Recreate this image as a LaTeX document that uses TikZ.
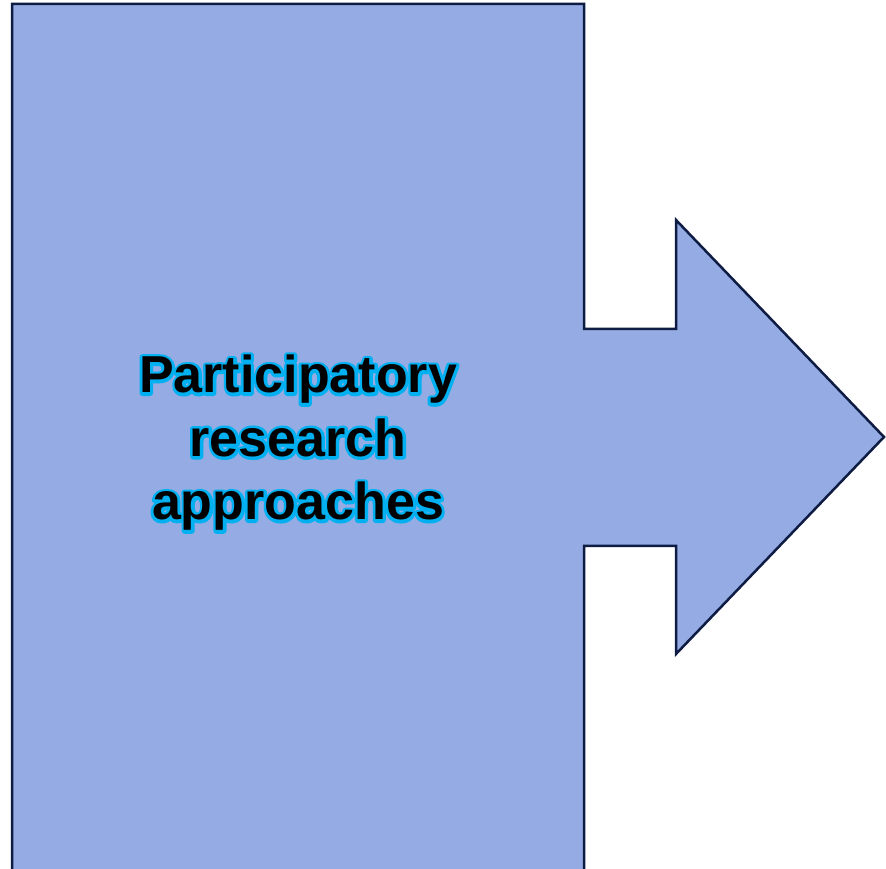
\documentclass[tikz,border=0pt]{standalone}
\usepackage{fontspec}
\newfontfamily\labelfont{Liberation Sans}
\definecolor{shapefill}{HTML}{94ABE3}
\definecolor{shapeline}{HTML}{0E1B42}
\newcommand{\olline}[1]{\special{pdf:literal direct 1 Tr 6 w 1 j 0 0.69 0.94 RG}#1\special{pdf:literal direct 0 Tr}}
\tikzset{
  arrowshape/.style={fill=shapefill, draw=shapeline, line width=2.5pt, line join=miter},
  bigtext/.style={align=center, font=\labelfont\bfseries\fontsize{52}{63.5}\selectfont, text=black, inner sep=0pt}
}
\begin{document}
\begin{tikzpicture}[x=1pt,y=1pt]
\useasboundingbox (0,0) rectangle (886,869);
\begin{scope}
\clip (0,0) rectangle (886,869);
\draw[arrowshape] (12,-10) -- (12,865) -- (584,865) -- (584,540) -- (676,540) -- (676,649)
  -- (884,432) -- (676,215) -- (676,323) -- (584,323) -- (584,-10) -- cycle;
\end{scope}
\node[bigtext, anchor=base] (labelhalo) at (298,349) {\olline{Participatory}\\\olline{research}\\\olline{approaches}};
\node[bigtext, anchor=base] (label) at (298,349) {Participatory\\research\\approaches};
\end{tikzpicture}
\end{document}
